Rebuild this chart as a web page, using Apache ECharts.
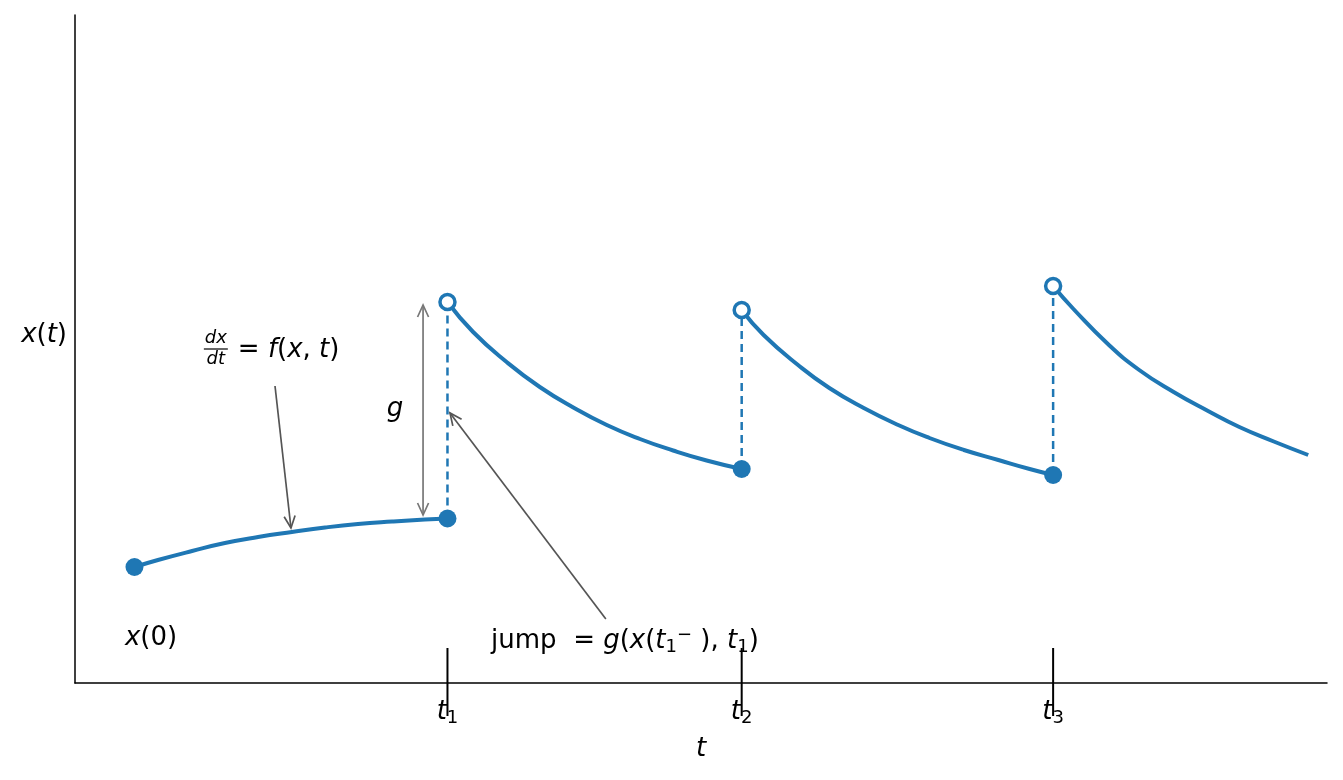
<!DOCTYPE html>
<html>
<head>
<meta charset="utf-8">
<script src="https://cdn.jsdelivr.net/npm/echarts@6/dist/echarts.min.js"></script>
<style>
  html, body { margin: 0; padding: 0; background: #fff; }
  #main { width: 1343px; height: 780px; }
</style>
</head>
<body>
<div id="main"></div>
<script>
// continuous pieces of x(t)
var seg1T = [0, 0.075, 0.184, 0.289, 0.395, 0.503, 0.609, 0.714, 0.823, 0.928, 1.0];
var seg1X = [1.16, 1.23, 1.32, 1.40, 1.46, 1.51, 1.555, 1.59, 1.615, 1.635, 1.645];
var seg2T = [1.0, 1.082, 1.189, 1.295, 1.402, 1.509, 1.615, 1.721, 1.828, 1.94];
var seg2X = [3.81, 3.51, 3.21, 2.96, 2.755, 2.58, 2.44, 2.325, 2.225, 2.14];
var seg3T = [1.94, 2.01, 2.12, 2.22, 2.33, 2.44, 2.54, 2.65, 2.76, 2.86, 2.935];
var seg3X = [3.73, 3.48, 3.18, 2.95, 2.75, 2.58, 2.45, 2.33, 2.23, 2.14, 2.08];
var seg4T = [2.935, 3.00, 3.11, 3.21, 3.32, 3.43, 3.53, 3.64, 3.75];
var seg4X = [3.97, 3.74, 3.39, 3.13, 2.91, 2.72, 2.56, 2.415, 2.28];

// jumps: times, value just before, value just after
var jumpT = [1.0, 1.94, 2.935];
var jumpBefore = [1.645, 2.14, 2.08];
var jumpAfter = [3.81, 3.73, 3.97];
var startT = 0, startX = 1.16;
var tickSubs = ['1', '2', '3'];

// annotation arrows: [fromT, fromX, toT, toX, twoHeads, colour]
var arrows = [
    [0.449, 2.97, 0.50, 1.55, false, '#555555'],
    [0.922, 3.78, 0.922, 1.68, true, '#777777'],
    [1.506, 0.64, 1.008, 2.70, false, '#555555']
];
var noteAt = [[0.053, 0.45], [0.832, 2.74], [1.567, 0.42]];
var noteText = [
    '{i|x}{n|(0)}',
    '{g|g}',
    '{n|jump  = }{i|g}{n|(}{i|x}{n|(}{i|t}{s|1}{p|−}{n| ), }{i|t}{s|1}{n|)}'
];
var fracAt = [0.26, 3.34];

var BLUE = '#1f77b4';
var FONT = 'DejaVu Sans';

function pts(t, x) {
    return t.map(function(v, i) { return [v, x[i]]; });
}

var rich = {
    n: { fontFamily: FONT, fontSize: 26, lineHeight: 30, color: '#000' },
    i: { fontFamily: FONT, fontSize: 26, lineHeight: 30, color: '#000', fontStyle: 'italic' },
    s: { fontFamily: FONT, fontSize: 18, lineHeight: 14, color: '#000', verticalAlign: 'bottom' },
    p: { fontFamily: FONT, fontSize: 18, lineHeight: 14, color: '#000', verticalAlign: 'top' },
    g: { fontFamily: FONT, fontSize: 26, lineHeight: 30, color: '#555555', fontStyle: 'italic' }
};

function head(tip, from, color) {
    var dx = tip[0] - from[0], dy = tip[1] - from[1];
    var len = Math.sqrt(dx * dx + dy * dy);
    var ux = dx / len, uy = dy / len, L = 12, W = 5.5;
    return {
        type: 'polyline',
        shape: { points: [
            [tip[0] - ux * L - uy * W, tip[1] - uy * L + ux * W],
            tip,
            [tip[0] - ux * L + uy * W, tip[1] - uy * L - ux * W]
        ] },
        style: { stroke: color, lineWidth: 1.7, fill: null }
    };
}

function renderArrow(params, api) {
    var a = arrows[params.dataIndex];
    var p0 = api.coord([a[0], a[1]]);
    var p1 = api.coord([a[2], a[3]]);
    var kids = [{
        type: 'line',
        shape: { x1: p0[0], y1: p0[1], x2: p1[0], y2: p1[1] },
        style: { stroke: a[5], lineWidth: 1.7 }
    }, head(p1, p0, a[5])];
    if (a[4]) kids.push(head(p0, p1, a[5]));
    return { type: 'group', children: kids };
}

function renderNote(params, api) {
    var p = api.coord(noteAt[params.dataIndex]);
    return {
        type: 'text', x: p[0], y: p[1],
        style: { text: noteText[params.dataIndex], rich: rich, align: 'center', verticalAlign: 'middle' }
    };
}

function renderFrac(params, api) {
    var p = api.coord(fracAt);
    var small = 'italic 18px "DejaVu Sans"';
    return {
        type: 'group',
        children: [
            { type: 'text', x: p[0], y: p[1] - 11, style: { text: 'dx', font: small, fill: '#000', align: 'center', verticalAlign: 'middle' } },
            { type: 'line', shape: { x1: p[0] - 12, y1: p[1], x2: p[0] + 12, y2: p[1] }, style: { stroke: '#000', lineWidth: 1.2 } },
            { type: 'text', x: p[0], y: p[1] + 10, style: { text: 'dt', font: small, fill: '#000', align: 'center', verticalAlign: 'middle' } },
            { type: 'text', x: p[0] + 22, y: p[1] + 1, style: {
                text: '{n|= }{i|f}{n|(}{i|x}{n|, }{i|t}{n|)}', rich: rich, align: 'left', verticalAlign: 'middle' } }
        ]
    };
}

function renderTick(params, api) {
    var p = api.coord([jumpT[params.dataIndex], 0]);
    return {
        type: 'line',
        shape: { x1: p[0], y1: p[1] - 35, x2: p[0], y2: p[1] + 33 },
        style: { stroke: '#000', lineWidth: 2 }
    };
}

var dashed = [];
jumpT.forEach(function(t, i) {
    dashed.push([t, jumpBefore[i]], [t, jumpAfter[i]], '-');
});

var lineStyle = { color: BLUE, width: 4 };
function seg(data) {
    return { type: 'line', data: data, smooth: true, showSymbol: false, symbol: 'none',
        lineStyle: lineStyle, z: 3, silent: true };
}

var chart = echarts.init(document.getElementById('main'));
chart.setOption({
    animation: false,
    backgroundColor: '#fff',
    grid: { left: 75, right: 16, top: 15, bottom: 97 },
    xAxis: {
        type: 'value', min: -0.19, max: 3.81,
        splitLine: { show: false },
        axisTick: { show: false },
        axisLine: { onZero: false, lineStyle: { color: '#000', width: 1.5 } },
        axisLabel: {
            customValues: jumpT,
            margin: 14,
            formatter: function(v) {
                return '{i|t}{s|' + tickSubs[jumpT.indexOf(v)] + '}';
            },
            rich: rich
        },
        name: 't', nameLocation: 'middle', nameGap: 51,
        nameTextStyle: { fontFamily: FONT, fontSize: 26, fontStyle: 'italic', color: '#000', lineHeight: 30 }
    },
    yAxis: {
        type: 'value', min: 0, max: 6.68,
        splitLine: { show: false },
        axisTick: { show: false },
        axisLabel: { show: false },
        axisLine: { show: true, onZero: false, lineStyle: { color: '#000', width: 1.5 } },
        name: '{i|x}{n|(}{i|t}{n|)}', nameLocation: 'middle', nameRotate: 0, nameGap: 8,
        nameTextStyle: { rich: rich, align: 'right', padding: [0, 0, 28, 0] }
    },
    series: [
        seg(pts(seg1T, seg1X)),
        seg(pts(seg2T, seg2X)),
        seg(pts(seg3T, seg3X)),
        seg(pts(seg4T, seg4X)),
        {
            type: 'line', data: dashed, showSymbol: false, symbol: 'none', connectNulls: false,
            lineStyle: { color: BLUE, width: 2.5, type: [8, 5] }, z: 2, silent: true
        },
        {
            type: 'scatter', symbolSize: 18, z: 5, silent: true,
            itemStyle: { color: BLUE, opacity: 1 },
            data: [[startT, startX]].concat(pts(jumpT, jumpBefore))
        },
        {
            type: 'scatter', symbolSize: 15, z: 5, silent: true,
            itemStyle: { color: '#fff', borderColor: BLUE, borderWidth: 3.5, opacity: 1 },
            data: pts(jumpT, jumpAfter)
        },
        { type: 'custom', renderItem: renderTick, data: jumpT.map(function(t) { return [t, 0]; }), z: 6, silent: true },
        { type: 'custom', renderItem: renderArrow, data: arrows.map(function(a) { return [a[0], a[1]]; }), z: 6, silent: true },
        { type: 'custom', renderItem: renderNote, data: noteAt, z: 6, silent: true },
        { type: 'custom', renderItem: renderFrac, data: [fracAt], z: 6, silent: true }
    ]
});
</script>
</body>
</html>
